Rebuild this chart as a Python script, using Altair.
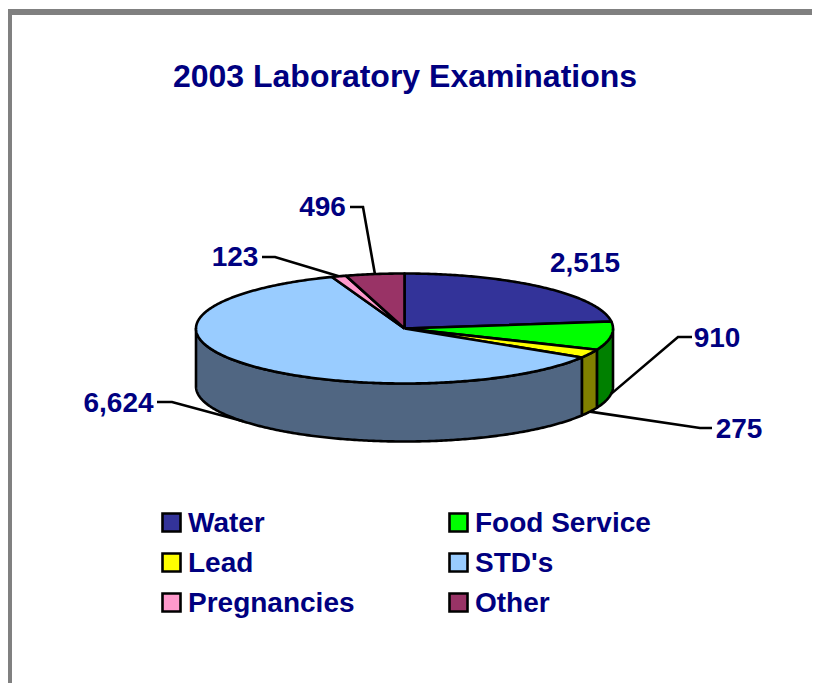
import math
import altair as alt
import pandas as pd

# ---- data ----
categories = ["Water", "Food Service", "Lead", "STD's", "Pregnancies", "Other"]
values = [2515, 910, 275, 6624, 123, 496]
value_labels = ["2,515", "910", "275", "6,624", "123", "496"]
title_text = "2003 Laboratory Examinations"

# ---- styles ----
top_colors = ["#333399", "#00FF00", "#FFFF00", "#99CCFF", "#FF99CC", "#993366"]
side_colors = ["#1F1F5C", "#008000", "#808000", "#506682", "#804D66", "#4D1A33"]
NAVY = "#000080"
FONT = "Liberation Sans"
LW = 2.6

# ---- layout (page pixels) ----
W, H = 804, 675
CX, CY, RX, RY, DEPTH = 404.5, 328.5, 208.5, 55.0, 58.0
label_pos = [(585, 264), (717, 339), (739, 430), (118.5, 404), (235, 258), (322.5, 208)]
elbow = {1: (678, 337, 692, 337), 2: (700, 428, 712, 428), 3: (172, 402, 157, 402),
         4: (275, 257, 262, 257), 5: (363, 207, 350, 207)}
legend_x = [171.5, 458.5]
legend_y = [522.5, 562.5, 602.5]
legend_text_dx = 16.5
legend_text_dy = 1

x_scale = alt.Scale(domain=[8, 8 + W], range=[0, W], nice=False, zero=False)
y_scale = alt.Scale(domain=[8, 8 + H], range=[0, H], nice=False, zero=False)
X = lambda f="x": alt.X(f"{f}:Q", scale=x_scale, axis=None)
Y = lambda f="y": alt.Y(f"{f}:Q", scale=y_scale, axis=None)


def pt(t, dy=0.0):
    r = math.radians(t)
    return CX + RX * math.sin(r), CY - RY * math.cos(r) + dy


def arc(a, b):
    n = max(2, int(abs(b - a) * 1.5))
    return [a + (b - a) * i / n for i in range(n + 1)]


def poly_layer(points, fill):
    df = pd.DataFrame({"x": [p[0] for p in points], "y": [p[1] for p in points],
                       "i": list(range(len(points)))})
    return alt.Chart(df).mark_line(filled=True, fill=fill, stroke="black", strokeWidth=LW,
                                   strokeJoin="round").encode(x=X(), y=Y(), order="i:Q")


total = sum(values)
edges = [0.0]
for v in values:
    edges.append(edges[-1] + v / total * 360)

layers = []
# grey frame
frame = pd.DataFrame({"k": [0]})
layers.append(alt.Chart(frame).mark_rect(color="#808080").encode(
    x=alt.value(0), x2=alt.value(4), y=alt.value(1), y2=alt.value(H)))
layers.append(alt.Chart(frame).mark_rect(color="#808080").encode(
    x=alt.value(0), x2=alt.value(W), y=alt.value(1), y2=alt.value(7)))

# side walls (front half only)
for i in range(len(values)):
    a, b = max(edges[i], 90), min(edges[i + 1], 270)
    if a >= b:
        continue
    ts = arc(a, b)
    pts = [pt(t) for t in ts] + [pt(t, DEPTH) for t in reversed(ts)]
    pts.append(pts[0])
    layers.append(poly_layer(pts, side_colors[i]))

# top faces
for i in range(len(values)):
    pts = [(CX, CY)] + [pt(t) for t in arc(edges[i], edges[i + 1])] + [(CX, CY)]
    layers.append(poly_layer(pts, top_colors[i]))

# leader lines
for i, e in elbow.items():
    mid = (edges[i] + edges[i + 1]) / 2
    on_front = 90 < mid < 270
    p = pt(mid, DEPTH if on_front else 0)
    pts = [p, (e[0], e[1]), (e[2], e[3])]
    df = pd.DataFrame({"x": [q[0] for q in pts], "y": [q[1] for q in pts], "i": [0, 1, 2]})
    layers.append(alt.Chart(df).mark_line(color="black", strokeWidth=LW).encode(
        x=X(), y=Y(), order="i:Q"))

# value labels
lab = pd.DataFrame({"x": [p[0] for p in label_pos], "y": [p[1] for p in label_pos],
                    "t": value_labels})
layers.append(alt.Chart(lab).mark_text(font=FONT, fontWeight="bold", fontSize=28, color=NAVY,
                                       align="center", baseline="middle").encode(
    x=X(), y=Y(), text="t:N"))

# title
tt = pd.DataFrame({"x": [405], "y": [77], "t": [title_text]})
layers.append(alt.Chart(tt).mark_text(font=FONT, fontWeight="bold", fontSize=32, color=NAVY,
                                      align="center", baseline="middle").encode(
    x=X(), y=Y(), text="t:N"))

# legend
leg = pd.DataFrame({
    "x": [legend_x[i % 2] for i in range(6)],
    "y": [legend_y[i // 2] for i in range(6)],
    "c": categories,
    "f": top_colors,
})
leg["tx"] = leg["x"] + legend_text_dx
leg["ty"] = leg["y"] + legend_text_dy
layers.append(alt.Chart(leg).mark_point(shape="square", filled=True, size=324, stroke="black",
                                        strokeWidth=2.6, opacity=1).encode(
    x=X(), y=Y(), fill=alt.Fill("f:N", scale=None)))
layers.append(alt.Chart(leg).mark_text(font=FONT, fontWeight="bold", fontSize=28, color=NAVY,
                                       align="left", baseline="middle").encode(
    x=X("tx"), y=Y("ty"), text="c:N"))

chart = alt.layer(*layers).properties(
    width=W, height=H, padding=0, autosize="none", background="white"
).configure_view(stroke=None)

chart.save("out.html", embed_options={"renderer": "svg", "actions": False})
